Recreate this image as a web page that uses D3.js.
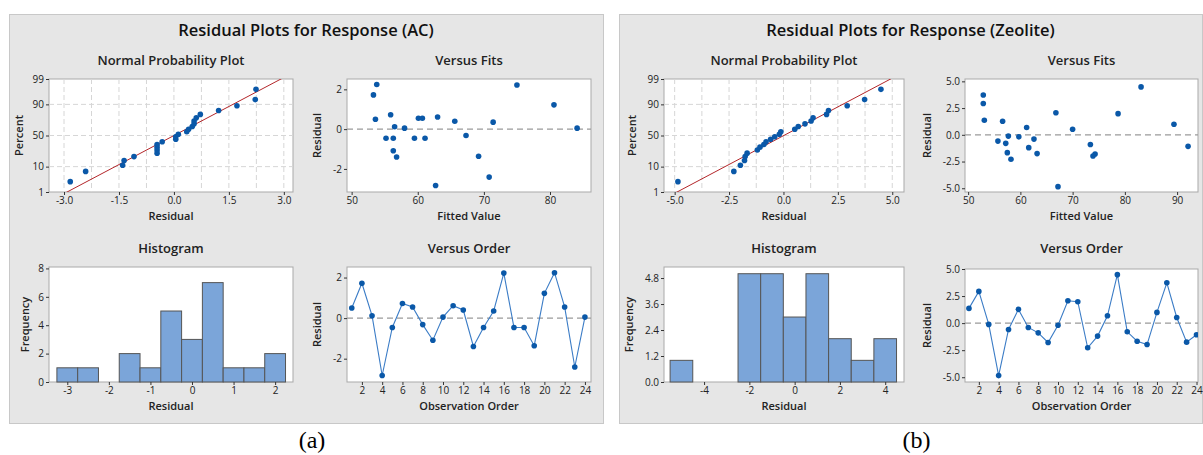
<!DOCTYPE html>
<html><head><meta charset="utf-8">
<script src="https://cdn.jsdelivr.net/npm/d3@7"></script>
<style>
body{margin:0;background:#fff}
svg{display:block}
</style>
</head><body>
<svg id="c" width="1203" height="455" font-family="Open Sans, Noto Sans, sans-serif"></svg>
<script>
// ---------------- DATA ----------------
const acResiduals = [0.50, 1.72, 0.12, -2.83, -0.46, 0.72, 0.55, -0.32, -1.09, 0.05, 0.61, 0.40,
                     -1.40, -0.46, 0.35, 2.22, -0.46, -0.46, -1.36, 1.22, 2.24, 0.55, -2.41, 0.05];
const acFitted    = [53.6, 53.3, 56.5, 62.7, 55.2, 55.9, 60.1, 67.3, 56.3, 58.0, 63.0, 65.6,
                     56.8, 56.3, 71.4, 75.0, 59.5, 61.1, 69.2, 80.6, 53.8, 60.7, 70.8, 84.1];
const acHistCenters = [-3, -2.5, -2, -1.5, -1, -0.5, 0, 0.5, 1, 1.5, 2];
const acHistCounts  = [1, 1, 0, 2, 1, 5, 3, 7, 1, 1, 2];

const zeoResiduals = [1.36, 2.93, -0.12, -4.85, -0.59, 1.27, -0.40, -0.90, -1.79, -0.19, 2.07, 1.98,
                      -2.28, -1.20, 0.68, 4.48, -0.80, -1.67, -1.98, 0.99, 3.73, 0.52, -1.76, -1.08];
const zeoFitted    = [53.1, 52.9, 57.7, 67.2, 55.7, 56.6, 62.6, 73.4, 74.3, 59.7, 66.8, 78.7,
                      58.2, 61.6, 61.2, 83.1, 57.2, 57.5, 73.9, 89.4, 52.9, 70.0, 63.2, 92.1];
const zeoHistCenters = [-5, -4, -3, -2, -1, 0, 1, 2, 3, 4];
const zeoHistCounts  = [1, 0, 0, 5, 5, 3, 5, 2, 1, 2];

// tick labels
const nppPercentTicks = [1, 10, 50, 90, 99];
const acNppXTicks   = [-3.0, -1.5, 0.0, 1.5, 3.0];
const acFitsXTicks  = [50, 60, 70, 80];
const acResidTicks  = [-2, 0, 2];
const acHistXTicks  = [-3, -2, -1, 0, 1, 2];
const acHistYTicks  = [0, 2, 4, 6, 8];
const zeoNppXTicks  = [-5.0, -2.5, 0.0, 2.5, 5.0];
const zeoFitsXTicks = [50, 60, 70, 80, 90];
const zeoResidTicks = [-5.0, -2.5, 0.0, 2.5, 5.0];
const zeoHistXTicks = [-4, -2, 0, 2, 4];
const zeoHistYTicks = [0.0, 1.2, 2.4, 3.6, 4.8];
const orderTicks    = [2, 4, 6, 8, 10, 12, 14, 16, 18, 20, 22, 24];

const titles = ["Residual Plots for Response (AC)", "Residual Plots for Response (Zeolite)"];
const captions = ["(a)", "(b)"];

// ---------------- HELPERS ----------------
function invNorm(p){
  const a=[-39.69683028665376,220.9460984245205,-275.9285104469687,138.3577518672690,-30.66479806614716,2.506628277459239];
  const b=[-54.47609879822406,161.5858368580409,-155.6989798598866,66.80131188771972,-13.28068155288572];
  const c=[-0.007784894002430293,-0.3223964580411365,-2.400758277161838,-2.549732539343734,4.374664141464968,2.938163982698783];
  const d=[0.007784695709041462,0.3224671290700398,2.445134137142996,3.754408661907416];
  const pl=0.02425, ph=1-pl; let q,r;
  if(p<pl){q=Math.sqrt(-2*Math.log(p));return (((((c[0]*q+c[1])*q+c[2])*q+c[3])*q+c[4])*q+c[5])/((((d[0]*q+d[1])*q+d[2])*q+d[3])*q+1);}
  if(p<=ph){q=p-0.5;r=q*q;return (((((a[0]*r+a[1])*r+a[2])*r+a[3])*r+a[4])*r+a[5])*q/(((((b[0]*r+b[1])*r+b[2])*r+b[3])*r+b[4])*r+1);}
  q=Math.sqrt(-2*Math.log(1-p));return -(((((c[0]*q+c[1])*q+c[2])*q+c[3])*q+c[4])*q+c[5])/((((d[0]*q+d[1])*q+d[2])*q+d[3])*q+1);
}

const svg = d3.select("#c");
const DOT = "#0a58a8", LINE = "#3b7cc6", BAR = "#7ba5d9", TXT = "#222";
let clipId = 0;

function frame(box){
  svg.append("rect").attr("x",box.x0).attr("y",box.y0)
    .attr("width",box.x1-box.x0).attr("height",box.y1-box.y0)
    .attr("fill","#fff").attr("stroke","#a9a9a9").attr("stroke-width",1);
}
function clip(box){
  const id="cl"+(clipId++);
  svg.append("clipPath").attr("id",id).append("rect")
    .attr("x",box.x0).attr("y",box.y0).attr("width",box.x1-box.x0).attr("height",box.y1-box.y0);
  return "url(#"+id+")";
}
function styleAxis(g){
  g.select(".domain").remove();
  g.attr("font-family","Open Sans, Noto Sans, sans-serif").attr("font-size",10).attr("color","#333");
  g.selectAll("text").attr("fill",TXT);
}
function xAxis(box, x, ticks, fmt){
  svg.append("g").attr("transform",`translate(0,${box.y1})`)
    .call(d3.axisBottom(x).tickValues(ticks).tickFormat(fmt).tickSize(3).tickPadding(2))
    .call(styleAxis);
}
function yAxis(box, y, ticks, fmt){
  svg.append("g").attr("transform",`translate(${box.x0},0)`)
    .call(d3.axisLeft(y).tickValues(ticks).tickFormat(fmt).tickSize(3).tickPadding(2))
    .call(styleAxis);
}
function subTitle(box, t){
  const top = box.y0 < 200 ? 79 : 267;
  svg.append("text").attr("x",(box.x0+box.x1)/2).attr("y",top-14)
    .attr("text-anchor","middle").attr("font-size",13).attr("font-weight",600).attr("fill",TXT).text(t);
}
function xLabel(box, t){
  svg.append("text").attr("x",(box.x0+box.x1)/2).attr("y",box.y1+28)
    .attr("text-anchor","middle").attr("font-size",11).attr("font-weight",600).attr("fill",TXT).text(t);
}
function yLabel(box, t, lx){
  svg.append("text").attr("transform",`translate(${lx},${(box.y0+box.y1)/2}) rotate(-90)`)
    .attr("text-anchor","middle").attr("font-size",11).attr("font-weight",600).attr("fill",TXT).text(t);
}
function dots(sel, data, x, y){
  sel.selectAll("circle.pt").data(data).join("circle").attr("class","pt")
    .attr("cx",d=>x(d[0])).attr("cy",d=>y(d[1])).attr("r",2.8).attr("fill",DOT);
}

// ---------------- SUBPLOTS ----------------
function drawNPP(box, res, xDom, xTicks, gridStep, fmt, ylx){
  frame(box);
  const x = d3.scaleLinear().domain(xDom).range([box.x0, box.x1]);
  const y = d3.scaleLinear().domain([invNorm(0.01), invNorm(0.99)]).range([box.y1, box.y0]);
  const cp = clip(box);
  const g = svg.append("g").attr("clip-path",cp);
  const gx = d3.range(xTicks[0], xTicks[xTicks.length-1]+1e-9, gridStep);
  g.selectAll("line.gv").data(gx).join("line").attr("class","gv")
    .attr("x1",d=>x(d)).attr("x2",d=>x(d)).attr("y1",box.y0).attr("y2",box.y1)
    .attr("stroke","#d6d6d6").attr("stroke-dasharray","5,3");
  g.selectAll("line.gh").data(nppPercentTicks.slice(1,-1)).join("line").attr("class","gh")
    .attr("y1",d=>y(invNorm(d/100))).attr("y2",d=>y(invNorm(d/100))).attr("x1",box.x0).attr("x2",box.x1)
    .attr("stroke","#d6d6d6").attr("stroke-dasharray","5,3");
  const mu = d3.mean(res), sd = d3.deviation(res);
  const zs = [invNorm(0.002), invNorm(0.998)];
  g.append("line").attr("x1",x(mu+sd*zs[0])).attr("y1",y(zs[0])).attr("x2",x(mu+sd*zs[1])).attr("y2",y(zs[1]))
    .attr("stroke","#b3262a").attr("stroke-width",1);
  const sorted = res.slice().sort(d3.ascending), n = sorted.length;
  dots(g, sorted.map((v,i)=>[v, invNorm((i+1-0.3)/(n+0.4))]), x, y);
  xAxis(box, x, xTicks, fmt);
  yAxis(box, y, nppPercentTicks.map(p=>invNorm(p/100)), (d,i)=>String(nppPercentTicks[i]));
  subTitle(box,"Normal Probability Plot"); xLabel(box,"Residual"); yLabel(box,"Percent",ylx);
}
function drawFits(box, fits, res, xDom, yDom, xTicks, yTicks, yfmt, ylx){
  frame(box);
  const x = d3.scaleLinear().domain(xDom).range([box.x0, box.x1]);
  const y = d3.scaleLinear().domain(yDom).range([box.y1, box.y0]);
  const g = svg.append("g").attr("clip-path",clip(box));
  g.append("line").attr("x1",box.x0).attr("x2",box.x1).attr("y1",y(0)).attr("y2",y(0))
    .attr("stroke","#9a9a9a").attr("stroke-width",1.2).attr("stroke-dasharray","6,4");
  dots(g, fits.map((f,i)=>[f,res[i]]), x, y);
  xAxis(box, x, xTicks, d=>String(d));
  yAxis(box, y, yTicks, yfmt);
  subTitle(box,"Versus Fits"); xLabel(box,"Fitted Value"); yLabel(box,"Residual",ylx);
}
function drawHist(box, centers, counts, width, xDom, yDom, xTicks, yTicks, yfmt, ylx){
  frame(box);
  const x = d3.scaleLinear().domain(xDom).range([box.x0, box.x1]);
  const y = d3.scaleLinear().domain(yDom).range([box.y1, box.y0]);
  svg.append("g").selectAll("rect").data(centers.map((c,i)=>[c,counts[i]])).join("rect")
    .attr("x",d=>x(d[0]-width/2)).attr("width",d=>x(d[0]+width/2)-x(d[0]-width/2))
    .attr("y",d=>y(d[1])).attr("height",d=>y(0)-y(d[1]))
    .attr("fill",BAR).attr("stroke","#555").attr("stroke-width",1);
  xAxis(box, x, xTicks, d=>String(d));
  yAxis(box, y, yTicks, yfmt);
  subTitle(box,"Histogram"); xLabel(box,"Residual"); yLabel(box,"Frequency",ylx);
}
function drawOrder(box, res, xDom, yDom, yTicks, yfmt, ylx){
  frame(box);
  const x = d3.scaleLinear().domain(xDom).range([box.x0, box.x1]);
  const y = d3.scaleLinear().domain(yDom).range([box.y1, box.y0]);
  const g = svg.append("g").attr("clip-path",clip(box));
  g.append("line").attr("x1",box.x0).attr("x2",box.x1).attr("y1",y(0)).attr("y2",y(0))
    .attr("stroke","#9a9a9a").attr("stroke-width",1.2).attr("stroke-dasharray","6,4");
  const pts = res.map((r,i)=>[i+1,r]);
  g.append("path").datum(pts).attr("d",d3.line().x(d=>x(d[0])).y(d=>y(d[1])))
    .attr("fill","none").attr("stroke",LINE).attr("stroke-width",1.1);
  dots(g, pts, x, y);
  xAxis(box, x, orderTicks, d=>String(d));
  yAxis(box, y, yTicks, yfmt);
  subTitle(box,"Versus Order"); xLabel(box,"Observation Order"); yLabel(box,"Residual",ylx);
}

// ---------------- PANELS ----------------
const panels = [{x0:9,y0:14,x1:603,y1:423},{x0:619,y0:14,x1:1202,y1:423}];
panels.forEach((p,i)=>{
  svg.append("rect").attr("x",p.x0+0.5).attr("y",p.y0+0.5).attr("width",p.x1-p.x0).attr("height",p.y1-p.y0)
    .attr("fill","#e6e6e6").attr("stroke","#c8c8c8");
  svg.append("text").attr("x",(p.x0+p.x1)/2).attr("y",36).attr("text-anchor","middle")
    .attr("font-size",16.5).attr("font-weight",600).attr("fill","#111").text(titles[i]);
  svg.append("text").attr("x",(p.x0+p.x1)/2+6).attr("y",448).attr("text-anchor","middle")
    .attr("font-family","Liberation Serif, Times New Roman, serif").attr("font-size",24).attr("fill","#000").text(captions[i]);
});

const f1 = d=>d.toFixed(1), f0 = d=>String(d);
// (a) AC
drawNPP({x0:49,y0:79,x1:293,y1:192}, acResiduals, [-3.41,3.25], acNppXTicks, 0.75, f1, 23);
drawFits({x0:347,y0:79,x1:591,y1:192}, acFitted, acResiduals, [49.3,86.2], [-3.16,2.52], acFitsXTicks, acResidTicks, f0, 321);
drawHist({x0:49,y0:267,x1:293,y1:382}, acHistCenters, acHistCounts, 0.5, [-3.44,2.43], [0,8.1], acHistXTicks, acHistYTicks, f0, 29);
drawOrder({x0:347,y0:267,x1:591,y1:382}, acResiduals, [0.53,24.6], [-3.15,2.52], acResidTicks, f0, 321);
// (b) Zeolite
drawNPP({x0:664,y0:79,x1:904,y1:192}, zeoResiduals, [-5.49,5.54], zeoNppXTicks, 1.25, f1, 636);
drawFits({x0:965,y0:79,x1:1198,y1:192}, zeoFitted, zeoResiduals, [49.4,94.0], [-5.35,5.22], zeoFitsXTicks, zeoResidTicks, f1, 931);
drawHist({x0:664,y0:267,x1:904,y1:382}, zeoHistCenters, zeoHistCounts, 1, [-5.77,4.83], [0,5.31], zeoHistXTicks, zeoHistYTicks, f1, 633);
drawOrder({x0:965,y0:269,x1:1198,y1:382}, zeoResiduals, [0.6,24.15], [-5.44,5.0], zeoResidTicks, f1, 931);
</script>
</body></html>
